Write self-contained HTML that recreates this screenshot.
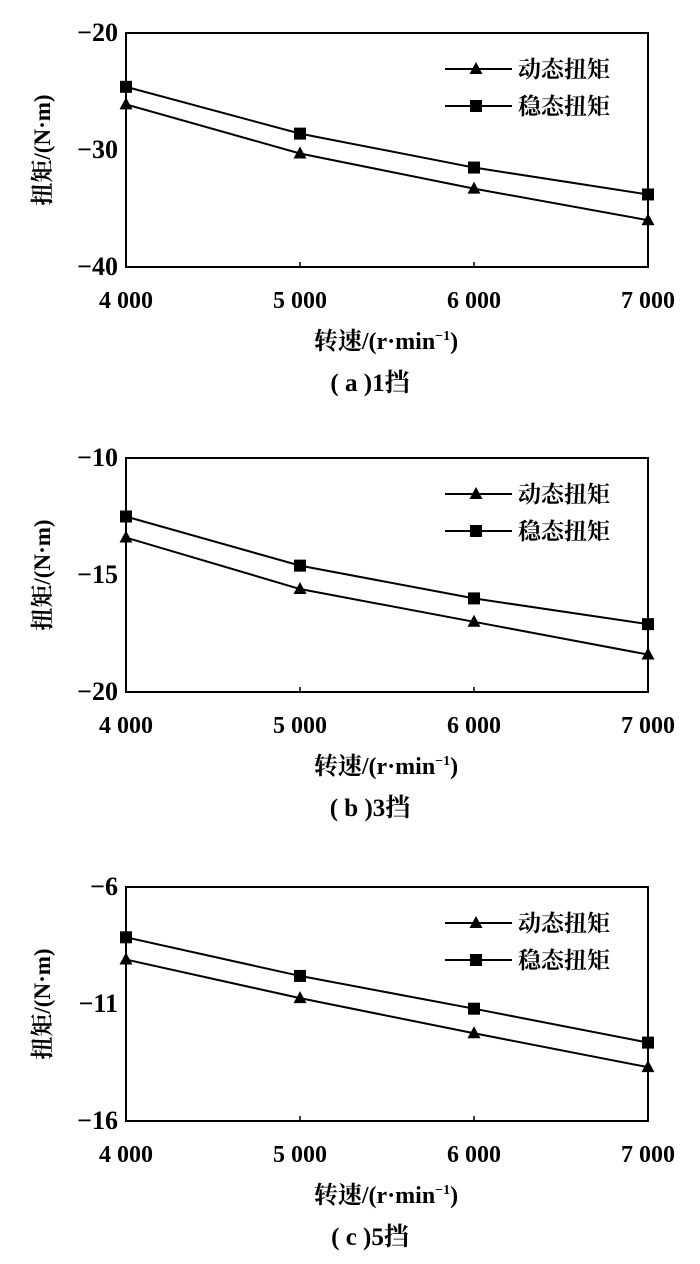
<!DOCTYPE html>
<html><head><meta charset="utf-8"><style>
body{margin:0;background:#fff;}
svg{display:block;font-family:"Liberation Serif","Noto Serif CJK SC",serif;}
</style></head><body>
<svg id="svg" width="700" height="1264" viewBox="0 0 700 1264"></svg>
<script>
const categories=[4000,5000,6000,7000];
const xTickLabels=["4 000","5 000","6 000","7 000"];
const dynA=[-26.1,-30.3,-33.3,-36.0];
const stA=[-24.6,-28.6,-31.5,-33.8];
const dynB=[-13.4,-15.6,-17.0,-18.4];
const stB=[-12.5,-14.6,-16.0,-17.1];
const dynC=[-9.1,-10.75,-12.25,-13.7];
const stC=[-8.15,-9.8,-11.2,-12.65];
const yTicksA=[-20,-30,-40];
const yTicksB=[-10,-15,-20];
const yTicksC=[-6,-11,-16];
const captions=["( a )1挡","( b )3挡","( c )5挡"];
const legendLabels=["动态扭矩","稳态扭矩"];

const NS="http://www.w3.org/2000/svg";
const svg=document.getElementById('svg');
function mk(tag,attrs,parent){const e=document.createElementNS(NS,tag);for(const k in attrs)e.setAttribute(k,attrs[k]);(parent||svg).appendChild(e);return e;}

function drawChart(idx,top,yTicks,dyn,st){
  const g=mk('g',{});
  
  
  const L=126,R=648,T=top,B=top+234;
  const yMax=yTicks[0],yMin=yTicks[yTicks.length-1];
  const xs=v=>L+(v-categories[0])/(categories[3]-categories[0])*(R-L);
  const ys=v=>T+(yMax-v)/(yMax-yMin)*(B-T);
  const frame=mk('rect',{x:L,y:T,width:R-L,height:B-T,fill:'none',stroke:'#000','stroke-width':2},g);
  
  
  yTicks.forEach(t=>{
    const tx=mk('text',{x:118,y:ys(t)+8,'text-anchor':'end','font-size':26,'font-weight':'bold'},g);
    tx.textContent=t.toString().replace('-','−');
    
    
  });
  categories.forEach((c,i)=>{
    mk('line',{x1:xs(c),x2:xs(c),y1:B,y2:B-5,stroke:'#000','stroke-width':1.5},g);
    const tx=mk('text',{x:xs(c),y:B+41,'text-anchor':'middle','font-size':24,'font-weight':'bold'},g);
    tx.textContent=xTickLabels[i];
    
    
  });
  const series=[{d:dyn,m:'tri'},{d:st,m:'sq'}];
  series.forEach((s,si)=>{
    const pts=s.d.map((v,i)=>xs(categories[i])+','+ys(v)).join(' ');
    const pl=mk('polyline',{points:pts,fill:'none',stroke:'#000','stroke-width':2},g);
    
    
    s.d.forEach((v,i)=>{
      const x=xs(categories[i]),y=ys(v);
      const m=marker(g,s.m,x,y);
      
      
    });
    const ly=T+36+si*37;
    mk('line',{x1:445,x2:512,y1:ly,y2:ly,stroke:'#000','stroke-width':2},g);
    marker(g,s.m,476,ly);
    const lt=mk('text',{x:518,y:ly+8,'font-size':23,'font-weight':'bold'},g);
    lt.textContent=legendLabels[si];
    
    
  });
  const yl=mk('text',{x:0,y:0,'font-size':23,'font-weight':'bold','text-anchor':'middle',transform:`translate(50,${(T+B)/2}) rotate(-90)`},g);
  yl.textContent='扭矩/(N·m)';
  
  
  const xl=mk('text',{x:386,y:B+82,'font-size':24,'font-weight':'bold','text-anchor':'middle'},g);
  xl.innerHTML='转速/(r·min<tspan dy="-9" font-size="14">−1</tspan><tspan dy="9">)</tspan>';
  
  
  const cap=mk('text',{x:370,y:B+124,'font-size':25,'font-weight':'bold','text-anchor':'middle'},g);
  cap.textContent=captions[idx];
  
  
}
function marker(g,type,x,y){
  if(type==='tri') return mk('polygon',{points:`${x},${y-7} ${x-6.5},${y+5} ${x+6.5},${y+5}`,fill:'#000'},g);
  return mk('rect',{x:x-6,y:y-6,width:12,height:12,fill:'#000'},g);
}
drawChart(0,33,yTicksA,dynA,stA);
drawChart(1,458,yTicksB,dynB,stB);
drawChart(2,887,yTicksC,dynC,stC);
</script>
</body></html>
